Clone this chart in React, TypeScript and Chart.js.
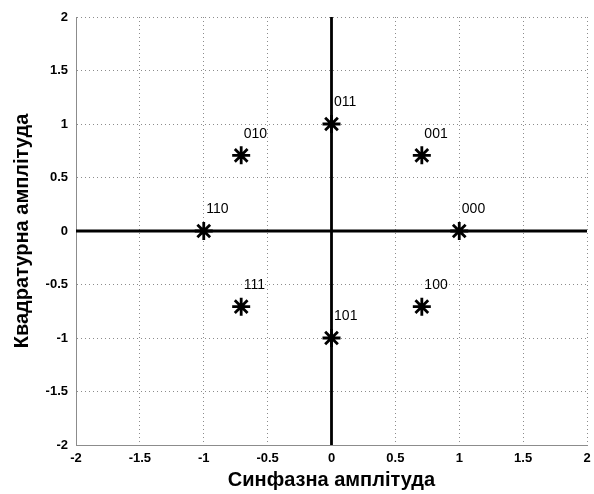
import React, { useEffect, useRef } from "react";
import { Chart, registerables } from "chart.js";

Chart.register(...registerables);

const symbolLabels = ["000", "001", "011", "010", "110", "111", "101", "100"];
const inPhase = [1, 0.707, 0, -0.707, -1, -0.707, 0, 0.707];
const quadrature = [0, 0.707, 1, 0.707, 0, -0.707, -1, -0.707];
const axisMin = -2;
const axisMax = 2;
const tickStep = 0.5;
const labelOffsetX = 0.02;
const labelOffsetY = 0.2;
const xTitle = "Синфазна амплітуда";
const yTitle = "Квадратурна амплітуда";

const zeroAxesPlugin = {
  id: "zeroAxes",
  beforeDatasetsDraw(chart: any) {
    const { ctx, chartArea, scales } = chart;
    const x0 = scales.x.getPixelForValue(0);
    const y0 = scales.y.getPixelForValue(0);
    ctx.save();
    ctx.strokeStyle = "#000";
    ctx.lineWidth = 2.8;
    ctx.beginPath();
    ctx.moveTo(chartArea.left, y0);
    ctx.lineTo(chartArea.right, y0);
    ctx.moveTo(x0, chartArea.top);
    ctx.lineTo(x0, chartArea.bottom);
    ctx.stroke();
    ctx.restore();
  },
};

const pointLabelsPlugin = {
  id: "pointLabels",
  afterDatasetsDraw(chart: any) {
    const { ctx, scales } = chart;
    ctx.save();
    ctx.fillStyle = "#000";
    ctx.font = "14px 'Liberation Sans', Arial, sans-serif";
    ctx.textAlign = "left";
    ctx.textBaseline = "middle";
    symbolLabels.forEach((lbl, i) => {
      const px = scales.x.getPixelForValue(inPhase[i] + labelOffsetX);
      const py = scales.y.getPixelForValue(quadrature[i] + labelOffsetY);
      ctx.fillText(lbl, px, py);
    });
    ctx.restore();
  },
};

export default function App() {
  const ref = useRef<HTMLCanvasElement>(null);
  useEffect(() => {
    if (!ref.current) return;
    const fam = "'Liberation Sans', Arial, sans-serif";
    const tickFont = { family: fam, size: 13, weight: "bold" as const };
    const titleFont = { family: fam, size: 20, weight: "bold" as const };
    const gridCfg = { color: "#8c8c8c", lineWidth: 1, drawTicks: false };
    const borderCfg = { display: true, color: "#8c8c8c", dash: [1, 3] };
    const chart = new Chart(ref.current, {
      type: "scatter",
      data: {
        datasets: [
          {
            data: inPhase.map((x, i) => ({ x, y: quadrature[i] })),
            pointStyle: "star",
            pointRadius: 9,
            pointBorderWidth: 2.8,
            borderColor: "#000",
            backgroundColor: "#000",
            showLine: false,
          },
        ],
      },
      options: {
        responsive: false,
        animation: false,
        layout: { autoPadding: false, padding: { left: 0, right: 7, top: 17, bottom: 0 } },
        plugins: { legend: { display: false }, tooltip: { enabled: false } },
        scales: {
          x: {
            type: "linear",
            min: axisMin,
            max: axisMax,
            ticks: {
              stepSize: tickStep,
              color: "#000",
              font: tickFont,
              padding: 6,
              maxRotation: 0,
              callback: (v: any) => String(v),
            },
            grid: gridCfg,
            border: borderCfg,
            title: { display: true, text: xTitle, color: "#000", font: titleFont, padding: { top: 0, bottom: 2 } },
            afterFit: (s: any) => {
              s.height = 49;
              s.paddingRight = 0;
              s.paddingLeft = 0;
            },
          } as any,
          y: {
            type: "linear",
            min: axisMin,
            max: axisMax,
            ticks: {
              stepSize: tickStep,
              color: "#000",
              font: tickFont,
              padding: 8,
              callback: (v: any) => String(v),
            },
            grid: gridCfg,
            border: borderCfg,
            title: { display: true, text: yTitle, color: "#000", font: titleFont, padding: { top: 10, bottom: 0 } },
            afterFit: (s: any) => {
              s.width = 76;
            },
          } as any,
        },
      },
      plugins: [zeroAxesPlugin, pointLabelsPlugin],
    });
    return () => chart.destroy();
  }, []);
  return (
    <div style={{ position: "absolute", left: 0, top: 0, width: 594, height: 494, background: "#fff" }}>
      <canvas ref={ref} width={594} height={494} />
    </div>
  );
}
